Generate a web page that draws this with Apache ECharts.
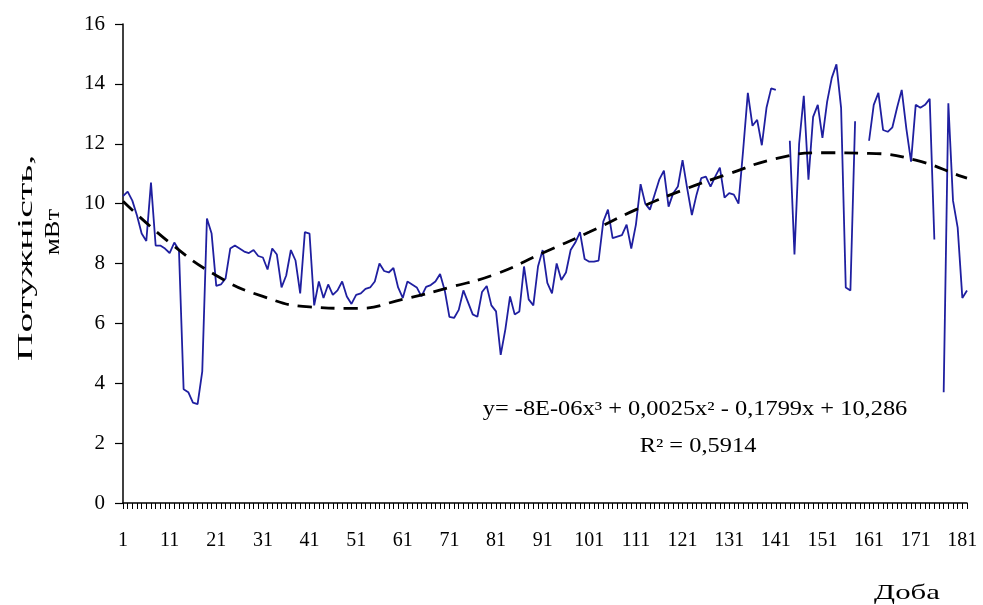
<!DOCTYPE html>
<html>
<head>
<meta charset="utf-8">
<script src="https://cdn.jsdelivr.net/npm/echarts@6/dist/echarts.min.js"></script>
<style>
html,body{margin:0;padding:0;background:#fff;}
#chart{width:983px;height:605px;}
</style>
</head>
<body>
<div id="chart"></div>
<script>
// Days 1..182
const days = [];
for (let d = 1; d <= 182; d++) days.push(String(d));

// Daily power values, mW (null = missing)
const power = [
  10.25, 10.4, 10.1, 9.6, 9.0, 8.75, 10.7, 8.6, 8.6, 8.5,
  8.35, 8.7, 8.45, 3.8, 3.7, 3.35, 3.3, 4.4, 9.5, 9.0,
  7.25, 7.3, 7.5, 8.5, 8.6, 8.5, 8.4, 8.35, 8.45, 8.25,
  8.2, 7.8, 8.5, 8.3, 7.2, 7.6, 8.45, 8.1, 7.0, 9.05,
  9.0, 6.6, 7.4, 6.85, 7.3, 6.95, 7.1, 7.4, 6.9, 6.65,
  6.95, 7.0, 7.15, 7.2, 7.4, 8.0, 7.75, 7.7, 7.85, 7.2,
  6.85, 7.4, 7.3, 7.2, 6.9, 7.22, 7.28, 7.4, 7.65, 7.1,
  6.22, 6.18, 6.45, 7.1, 6.7, 6.3, 6.22, 7.05, 7.25, 6.6,
  6.4, 4.95, 5.8, 6.9, 6.3, 6.4, 7.9, 6.8, 6.6, 7.9,
  8.45, 7.35, 7.0, 8.0, 7.45, 7.7, 8.45, 8.7, 9.05, 8.15,
  8.06, 8.06, 8.1, 9.4, 9.8, 8.85, 8.9, 8.95, 9.3, 8.5,
  9.3, 10.65, 10.0, 9.8, 10.3, 10.8, 11.1, 9.9, 10.35, 10.57,
  11.45, 10.5, 9.62, 10.3, 10.85, 10.9, 10.57, 10.9, 11.2, 10.2,
  10.35, 10.3, 10.0, 11.8, 13.7, 12.6, 12.8, 11.95, 13.2, 13.85,
  13.8, null, null, 12.1, 8.3, 12.0, 13.6, 10.8, 12.9, 13.3,
  12.2, 13.4, 14.2, 14.65, 13.2, 7.2, 7.1, 12.75, null, null,
  12.1, 13.3, 13.7, 12.46, 12.4, 12.55, 13.2, 13.8, 12.5, 11.4,
  13.3, 13.2, 13.3, 13.5, 8.8, null, 3.7, 13.35, 10.1, 9.2,
  6.85, 7.1
];

// Polynomial trend line
const trendDays = [1, 11, 21, 31, 41, 51, 61, 71, 81, 91, 101, 111, 121, 131, 141, 151, 161, 171, 181, 182];
const trendVals = [10.08, 8.7, 7.6, 6.9, 6.55, 6.5, 6.8, 7.2, 7.65, 8.35, 9.05, 9.8, 10.45, 11.0, 11.5, 11.7, 11.68, 11.45, 10.9, 10.85];

const yTicks = [0, 2, 4, 6, 8, 10, 12, 14, 16];

const FONT = '"Liberation Serif", "DejaVu Serif", serif';

const chart = echarts.init(document.getElementById('chart'), null, {renderer: 'canvas'});
chart.setOption({
  animation: false,
  backgroundColor: '#ffffff',
  grid: {left: 123, right: 16, top: 24, bottom: 102, containLabel: false},
  xAxis: [{
    type: 'category',
    data: days,
    boundaryGap: false,
    axisLine: {lineStyle: {color: '#000', width: 1.5}},
    axisTick: {show: true, interval: 0, length: 6, lineStyle: {color: '#000', width: 1}},
    axisLabel: {interval: 9, color: '#000', fontFamily: FONT, fontSize: 20, margin: 28},
    splitLine: {show: false}
  }, {
    type: 'value',
    min: 1, max: 182,
    show: false
  }],
  yAxis: {
    type: 'value',
    min: yTicks[0], max: yTicks[yTicks.length - 1], interval: 2,
    axisLine: {show: true, lineStyle: {color: '#000', width: 1.5}},
    axisTick: {show: true, length: 8, lineStyle: {color: '#000', width: 1.2}},
    axisLabel: {color: '#000', fontFamily: FONT, fontSize: 21, margin: 18},
    splitLine: {show: false}
  },
  series: [{
    type: 'line',
    xAxisIndex: 0,
    data: power,
    showSymbol: false,
    connectNulls: false,
    lineStyle: {color: '#1f1fa0', width: 1.8},
    itemStyle: {color: '#1f1fa0'},
    z: 2
  }, {
    type: 'line',
    xAxisIndex: 1,
    data: trendDays.map((d, i) => [d, trendVals[i]]),
    showSymbol: false,
    smooth: true,
    lineStyle: {color: '#000', width: 2.8, type: [14, 9]},
    z: 3
  }],
  graphic: [
    {type: 'text', x: 695, y: 410, scaleX: 1.22, style: {text: 'y= -8E-06x³ + 0,0025x² - 0,1799x + 10,286', font: '20px ' + FONT, fill: '#000', textAlign: 'center', textVerticalAlign: 'middle'}},
    {type: 'text', x: 698, y: 447, scaleX: 1.22, style: {text: 'R² = 0,5914', font: '20px ' + FONT, fill: '#000', textAlign: 'center', textVerticalAlign: 'middle'}},
    {type: 'text', x: 26, y: 258, rotation: Math.PI / 2, scaleX: 1.8, style: {text: 'Потужність,', font: '22px ' + FONT, fill: '#000', textAlign: 'center', textVerticalAlign: 'middle'}},
    {type: 'text', x: 53, y: 232, rotation: Math.PI / 2, scaleX: 1.2, style: {text: 'мВт', font: '22px ' + FONT, fill: '#000', textAlign: 'center', textVerticalAlign: 'middle'}},
    {type: 'text', x: 907, y: 593, scaleX: 1.4, style: {text: 'Доба', font: '22px ' + FONT, fill: '#000', textAlign: 'center', textVerticalAlign: 'middle'}}
  ]
});
</script>
</body>
</html>
